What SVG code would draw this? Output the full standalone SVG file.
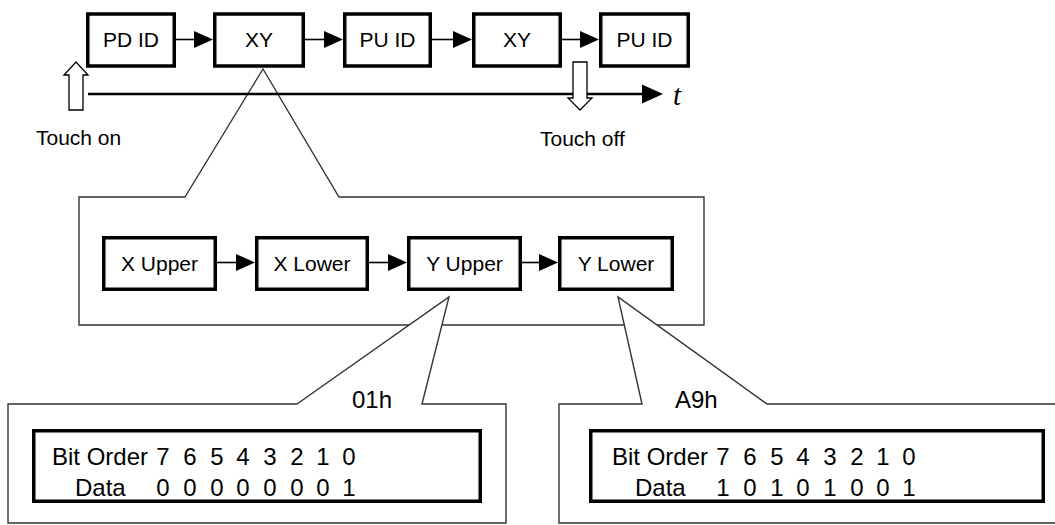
<svg xmlns="http://www.w3.org/2000/svg" width="1055" height="525" viewBox="0 0 1055 525">
  <style>
    .box { fill: #fff; stroke: #000; stroke-width: 3.5; }
    .lbl { font-family: "Liberation Sans", Arial, sans-serif; font-size: 21px; fill: #000; text-anchor: middle; }
    .cap { font-family: "Liberation Sans", Arial, sans-serif; font-size: 21px; fill: #000; }
    .big { font-family: "Liberation Sans", Arial, sans-serif; font-size: 24px; fill: #000; }
    .dig { font-family: "Liberation Sans", Arial, sans-serif; font-size: 24px; fill: #000; text-anchor: middle; }
    .call { fill: #fff; stroke: #333; stroke-width: 1.4; }
    .link { stroke: #000; stroke-width: 1.6; fill: none; }
    .head { fill: #000; stroke: none; }
    .hollow { fill: #fff; stroke: #000; stroke-width: 1.3; }
  </style>
  <defs>
    <path id="ah" d="M 0 0 L -19 -8.5 L -19 8.5 Z"/>
  </defs>
  <rect width="1055" height="525" fill="#fff"/>

  <!-- callout outlines (zoom-ins) -->
  <g id="callouts">
    <path class="call" d="M 185 197 L 263 69 L 339 197 L 704 197 L 704 325 L 79 325 L 79 197 Z"/>
    <path class="call" d="M 297 404 L 449 297 L 422 404 L 506 404 L 506 523 L 8 523 L 8 404 Z"/>
    <path class="call" d="M 642 404 L 618 297 L 767 404 L 1062 404 L 1062 523 L 559 523 L 559 404 Z"/>
  </g>

  <!-- time axis -->
  <g id="timeline">
    <line x1="88" y1="94" x2="645" y2="94" stroke="#000" stroke-width="2.6"/>
    <path class="head" d="M 663 94 L 642 84.5 L 642 103.5 Z"/>
    <text x="673" y="105" font-family="Liberation Serif, 'Times New Roman', serif" font-style="italic" font-size="29">t</text>
  </g>

  <g id="connectors">
    <!-- top sequence -->
    <line class="link" x1="176" y1="39.5" x2="196" y2="39.5"/>
    <use href="#ah" x="213" y="39.5" class="head"/>
    <line class="link" x1="305" y1="39.5" x2="326" y2="39.5"/>
    <use href="#ah" x="343" y="39.5" class="head"/>
    <line class="link" x1="432" y1="39.5" x2="455" y2="39.5"/>
    <use href="#ah" x="472" y="39.5" class="head"/>
    <line class="link" x1="562" y1="39.5" x2="582" y2="39.5"/>
    <use href="#ah" x="599" y="39.5" class="head"/>
    <!-- byte sequence -->
    <line class="link" x1="217" y1="262.5" x2="238" y2="262.5"/>
    <use href="#ah" x="255" y="262.5" class="head"/>
    <line class="link" x1="369" y1="262.5" x2="390" y2="262.5"/>
    <use href="#ah" x="407" y="262.5" class="head"/>
    <line class="link" x1="522" y1="262.5" x2="541" y2="262.5"/>
    <use href="#ah" x="558" y="262.5" class="head"/>
  </g>

  <!-- touch events -->
  <g id="touch-on">
    <polygon class="hollow" points="76,62 88,75 83,75 83,110 69,110 69,75 64,75"/>
    <text class="cap" x="36" y="145">Touch on</text>
  </g>
  <g id="touch-off">
    <polygon class="hollow" points="573,62 587,62 587,98 592,98 580,110 568,98 573,98"/>
    <text class="cap" x="540" y="146">Touch off</text>
  </g>

  <!-- packet sequence -->
  <g id="pd-id">
    <rect class="box" x="87.75" y="14" width="86.5" height="52"/>
    <text class="lbl" x="131" y="47">PD ID</text>
  </g>
  <g id="xy-1">
    <rect class="box" x="214.75" y="14" width="88.5" height="52"/>
    <text class="lbl" x="259" y="47">XY</text>
  </g>
  <g id="pu-id-1">
    <rect class="box" x="344.75" y="14" width="85.5" height="52"/>
    <text class="lbl" x="387.5" y="47">PU ID</text>
  </g>
  <g id="xy-2">
    <rect class="box" x="473.75" y="14" width="86.5" height="52"/>
    <text class="lbl" x="517" y="47">XY</text>
  </g>
  <g id="pu-id-2">
    <rect class="box" x="600.75" y="14" width="87.5" height="52"/>
    <text class="lbl" x="644.5" y="47">PU ID</text>
  </g>

  <!-- XY byte breakdown -->
  <g id="x-upper">
    <rect class="box" x="103.75" y="237.75" width="111.5" height="51.5"/>
    <text class="lbl" x="159.5" y="271">X Upper</text>
  </g>
  <g id="x-lower">
    <rect class="box" x="256.75" y="237.75" width="110.5" height="51.5"/>
    <text class="lbl" x="312" y="271">X Lower</text>
  </g>
  <g id="y-upper">
    <rect class="box" x="408.75" y="237.75" width="111.5" height="51.5"/>
    <text class="lbl" x="464.5" y="271">Y Upper</text>
  </g>
  <g id="y-lower">
    <rect class="box" x="559.75" y="237.75" width="112.5" height="51.5"/>
    <text class="lbl" x="616" y="271">Y Lower</text>
  </g>

  <!-- Y Upper value -->
  <g id="y-upper-bits">
    <text class="big" x="352" y="408">01h</text>
    <rect class="box" x="33.75" y="430.75" width="446.5" height="70.5"/>
    <text class="big" x="52" y="465">Bit Order</text>
    <text class="big" x="75" y="496">Data</text>
    <g class="dig">
      <text x="163" y="465">7</text><text x="190" y="465">6</text><text x="217" y="465">5</text><text x="243" y="465">4</text>
      <text x="270" y="465">3</text><text x="297" y="465">2</text><text x="323" y="465">1</text><text x="349" y="465">0</text>
      <text x="163" y="496">0</text><text x="190" y="496">0</text><text x="217" y="496">0</text><text x="243" y="496">0</text>
      <text x="270" y="496">0</text><text x="297" y="496">0</text><text x="323" y="496">0</text><text x="349" y="496">1</text>
    </g>
  </g>

  <!-- Y Lower value -->
  <g id="y-lower-bits">
    <text class="big" x="675" y="408">A9h</text>
    <rect class="box" x="590.75" y="430.75" width="452.5" height="70.5"/>
    <text class="big" x="612" y="465">Bit Order</text>
    <text class="big" x="635" y="496">Data</text>
    <g class="dig">
      <text x="723" y="465">7</text><text x="750" y="465">6</text><text x="777" y="465">5</text><text x="803" y="465">4</text>
      <text x="830" y="465">3</text><text x="857" y="465">2</text><text x="883" y="465">1</text><text x="909" y="465">0</text>
      <text x="723" y="496">1</text><text x="750" y="496">0</text><text x="777" y="496">1</text><text x="803" y="496">0</text>
      <text x="830" y="496">1</text><text x="857" y="496">0</text><text x="883" y="496">0</text><text x="909" y="496">1</text>
    </g>
  </g>
</svg>
